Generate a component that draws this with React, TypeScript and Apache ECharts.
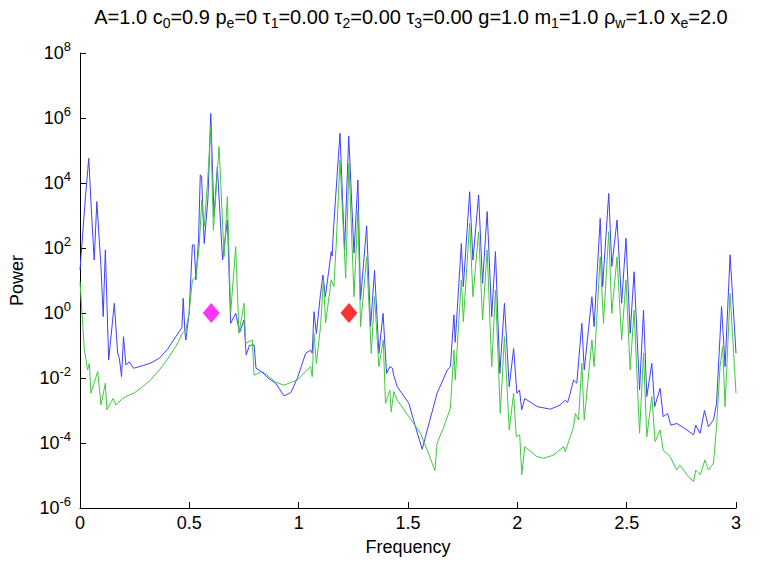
import React, { useEffect, useRef } from 'react';
import * as echarts from 'echarts';

// Frequencies and log10(Power)
const blueFreq = [
  0.000, 0.024, 0.040, 0.052, 0.065, 0.077, 0.096, 0.106, 0.116, 0.131, 0.157, 0.172, 0.180, 0.190, 0.199,
  0.210, 0.225, 0.245, 0.286, 0.320, 0.363, 0.400, 0.438, 0.466, 0.472, 0.480, 0.484, 0.499, 0.514, 0.522, 0.530, 0.542,
  0.550, 0.556, 0.568, 0.585, 0.598, 0.613, 0.628, 0.652, 0.674, 0.689, 0.712, 0.730, 0.750, 0.760, 0.775,
  0.796, 0.805, 0.830, 0.860, 0.895, 0.933, 0.964, 0.994, 1.032, 1.055, 1.062, 1.070, 1.081, 1.100, 1.111, 1.122,
  1.149, 1.153, 1.160, 1.189, 1.210, 1.229, 1.253, 1.271, 1.283, 1.311, 1.329, 1.347, 1.367, 1.386, 1.402,
  1.417, 1.429, 1.434, 1.451, 1.504, 1.534, 1.565, 1.588, 1.633, 1.680, 1.694, 1.710, 1.716, 1.744, 1.753,
  1.782, 1.797, 1.823, 1.841, 1.862, 1.883, 1.900, 1.920, 1.941, 1.963, 1.983, 1.998, 2.010, 2.020, 2.034,
  2.090, 2.151, 2.196, 2.219, 2.230, 2.242, 2.257, 2.272, 2.295, 2.306, 2.341, 2.351, 2.379, 2.390, 2.418,
  2.432, 2.456, 2.477, 2.497, 2.516, 2.534, 2.559, 2.577, 2.592, 2.615, 2.628, 2.653, 2.667, 2.687, 2.702,
  2.730, 2.776, 2.806, 2.816, 2.836, 2.856, 2.874, 2.897, 2.911, 2.934, 2.950, 2.973, 3.000,
];
const blueLogPower = [
  1.32, 3.48, 4.76, 3.17, 1.63, 3.43, 1.43, -0.11, 1.94, -1.45, 0.30, -1.23, -1.40, -1.96, -0.73,
  -1.60, -1.50, -1.70, -1.62, -1.55, -1.39, -1.12, -0.73, -0.45, 0.45, -0.60, -0.83, 0.00, 2.09, 2.10, 1.02, 2.25,
  4.25, 4.20, 2.14, 3.50, 6.14, 2.96, 4.50, 1.63, 2.86, -0.32, -0.01, -0.60, -0.22, -1.29, -1.00,
  -0.98, -1.70, -1.80, -2.00, -2.16, -2.55, -2.45, -2.01, -1.24, -1.14, -1.24, 0.04, -0.63, 0.60, 1.17, 0.50,
  1.89, 1.75, 2.66, 5.53, 1.94, 5.45, 1.84, 4.09, 0.40, 2.68, -0.42, 1.32, -1.24, -0.01, -1.86,
  -1.65, -1.70, -1.90, -2.27, -2.78, -3.50, -4.19, -3.60, -2.47, -1.75, -1.65, -0.06, -0.90, 2.14, 0.81,
  3.73, 1.63, 3.63, 0.91, 3.12, -0.11, 1.89, -1.86, 0.30, -2.27, -1.09, -2.47, -2.37, -2.98, -2.63,
  -2.88, -2.96, -2.83, -2.68, -2.75, -2.47, -2.06, -2.16, -0.32, -1.75, 0.50, -0.42, 2.91, 0.81, 3.68,
  1.43, 2.86, 0.30, 2.30, -0.63, 1.27, -2.37, 0.09, -2.57, -1.55, -2.88, -2.32, -3.19, -3.09, -3.45,
  -3.40, -3.60, -3.75, -3.45, -3.70, -3.00, -3.50, -3.29, -2.78, 0.20, -1.65, 1.79, -1.24,
];

const greenFreq = [
  0.000, 0.020, 0.035, 0.043, 0.050, 0.081, 0.096, 0.116, 0.123, 0.134, 0.152, 0.164, 0.195, 0.210, 0.250, 0.286,
  0.320, 0.363, 0.400, 0.438, 0.469, 0.484, 0.499, 0.514, 0.530, 0.545, 0.557, 0.568, 0.583, 0.598, 0.610, 0.636, 0.659,
  0.674, 0.689, 0.712, 0.727, 0.750, 0.758, 0.788, 0.796, 0.834, 0.895, 0.933, 0.994, 1.032, 1.055, 1.062,
  1.070, 1.081, 1.100, 1.113, 1.123, 1.149, 1.161, 1.172, 1.189, 1.215, 1.230, 1.253, 1.271, 1.283, 1.311,
  1.332, 1.347, 1.367, 1.387, 1.397, 1.417, 1.423, 1.435, 1.451, 1.504, 1.557, 1.588, 1.623, 1.633, 1.664,
  1.694, 1.710, 1.716, 1.744, 1.753, 1.782, 1.797, 1.823, 1.841, 1.862, 1.883, 1.900, 1.922, 1.941, 1.963,
  1.983, 1.995, 2.011, 2.020, 2.034, 2.090, 2.121, 2.166, 2.212, 2.219, 2.242, 2.257, 2.265, 2.280, 2.295,
  2.306, 2.341, 2.351, 2.379, 2.394, 2.418, 2.432, 2.456, 2.477, 2.497, 2.516, 2.534, 2.559, 2.577, 2.592,
  2.615, 2.630, 2.653, 2.667, 2.699, 2.729, 2.744, 2.776, 2.806, 2.816, 2.836, 2.858, 2.874, 2.897, 2.911,
  2.927, 2.939, 2.950, 2.973, 3.000,
];
const greenLogPower = [
  0.97, -1.14, -1.75, -1.55, -2.47, -1.80, -2.83, -2.16, -2.98, -2.83, -2.63, -2.83, -2.63, -2.57, -2.45, -2.27,
  -2.08, -1.75, -1.42, -1.03, -0.62, -0.52, 0.00, 1.02, 1.12, 2.04, 3.48, 2.66, 3.99, 5.73, 2.55, 5.12, 1.73,
  3.58, 0.00, 2.04, -0.62, 0.30, -0.93, -0.83, -1.91, -1.80, -2.13, -2.22, -2.06, -1.80, -1.65, -1.96,
  -0.62, -1.55, -0.42, 1.02, -0.31, 1.02, 0.81, 2.15, 4.71, 1.07, 4.61, 0.50, 3.17, -0.42, 1.73,
  -1.24, 0.50, -1.65, -0.83, -2.78, -2.37, -3.04, -2.42, -2.68, -3.19, -3.70, -4.22, -4.85, -4.01, -3.50,
  -2.93, -1.14, -2.06, 1.02, -0.27, 2.76, 0.50, 2.50, -0.22, 1.94, -1.65, 0.71, -3.09, -0.73, -3.60,
  -2.47, -3.81, -3.75, -4.98, -4.11, -4.42, -4.47, -4.37, -4.11, -4.27, -3.81, -3.50, -3.09, -3.29, -1.55,
  -3.29, -0.83, -1.65, 1.73, -0.32, 2.50, -0.01, 1.73, -0.83, 1.02, -1.75, 0.09, -3.70, -1.24, -3.81,
  -2.57, -3.96, -3.60, -4.22, -4.42, -4.83, -4.68, -4.98, -5.19, -4.83, -4.98, -4.52, -4.83, -4.62, -3.50,
  -1.65, -1.03, -2.88, 0.60, -2.47,
];

const markerFreq = [0.6, 1.23];
const markerPower = [1, 1];
const markerColors = ['#ff00ff', '#ff0000'];

const titleParts: Array<[string, string]> = [
  ['A=1.0 c', '0'], ['=0.9 p', 'e'], ['=0 τ', '1'], ['=0.00 τ', '2'], ['=0.00 τ', '3'],
  ['=0.00 g=1.0 m', '1'], ['=1.0 ρ', 'w'], ['=1.0 x', 'e'], ['=2.0', ''],
];

const FONT = '"Liberation Sans", Arial, sans-serif';

export default function App() {
  const ref = useRef<HTMLDivElement>(null);
  useEffect(() => {
    if (!ref.current) return;
    const chart = echarts.init(ref.current, null, { renderer: 'svg' });
    const toPairs = (xs: number[], ys: number[]) => xs.map((x, i) => [x, Math.pow(10, ys[i])]);
    const titleText = titleParts
      .map(([n, s]) => `{n|${n}}` + (s ? `{s|${s}}` : ''))
      .join('');
    chart.setOption({
      animation: false,
      backgroundColor: '#ffffff',
      title: {
        text: titleText,
        left: 411,
        top: 4,
        padding: 0,
        textAlign: 'center',
        textStyle: {
          fontWeight: 'normal',
          rich: {
            n: { fontFamily: FONT, fontSize: 20, fontWeight: 'normal', lineHeight: 26, color: '#000' },
            s: { fontFamily: FONT, fontSize: 14, fontWeight: 'normal', lineHeight: 12, verticalAlign: 'bottom', color: '#000' },
          },
        },
      },
      grid: { left: 79, right: 43, top: 53, bottom: 54 },
      xAxis: {
        type: 'value',
        min: 0,
        max: 3,
        interval: 0.5,
        name: 'Frequency',
        nameLocation: 'middle',
        nameGap: 30,
        nameTextStyle: { fontFamily: FONT, fontSize: 18, color: '#000' },
        axisLine: { lineStyle: { color: '#000', width: 1 } },
        axisTick: { inside: true, length: 6, lineStyle: { color: '#000' } },
        axisLabel: { fontFamily: FONT, fontSize: 18, color: '#000', margin: 6 },
        splitLine: { show: false },
      },
      yAxis: {
        type: 'log',
        logBase: 10,
        min: 1e-6,
        max: 1e8,
        interval: 2,
        name: 'Power',
        nameLocation: 'middle',
        nameGap: 54,
        nameRotate: 90,
        nameTextStyle: { fontFamily: FONT, fontSize: 18, color: '#000' },
        axisLine: { show: true, lineStyle: { color: '#000', width: 1 } },
        axisTick: { show: true, inside: true, length: 6, lineStyle: { color: '#000' } },
        axisLabel: {
          margin: 9,
          formatter: (v: number) => `{b|10}{s|${Math.round(Math.log10(v))}}`,
          rich: {
            b: { fontFamily: FONT, fontSize: 18, lineHeight: 26, color: '#000' },
            s: { fontFamily: FONT, fontSize: 13, lineHeight: 12, verticalAlign: 'top', color: '#000' },
          },
        },
        splitLine: { show: false },
        minorTick: { show: false },
      },
      series: [
        {
          type: 'line',
          data: toPairs(blueFreq, blueLogPower),
          showSymbol: false,
          symbol: 'none',
          lineStyle: { color: '#4040ff', width: 1 },
          itemStyle: { color: '#4040ff' },
          z: 2,
        },
        {
          type: 'line',
          data: toPairs(greenFreq, greenLogPower),
          showSymbol: false,
          symbol: 'none',
          lineStyle: { color: '#40c840', width: 1 },
          itemStyle: { color: '#40c840' },
          z: 3,
        },
        ...markerFreq.map((f, i) => ({
          type: 'scatter',
          data: [[f, markerPower[i]]],
          symbol: 'diamond',
          symbolSize: [17, 20],
          itemStyle: { color: markerColors[i] },
          z: 4,
        })),
      ],
    });
    return () => chart.dispose();
  }, []);
  return (
    <div
      ref={ref}
      style={{ position: 'fixed', left: 0, top: 0, width: 779, height: 562, background: '#fff' }}
    />
  );
}
